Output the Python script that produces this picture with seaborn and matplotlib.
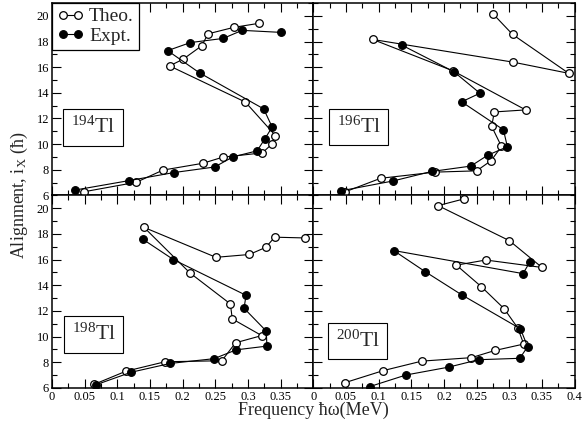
import numpy as np
import pandas as pd
import matplotlib
matplotlib.use("Agg")
import matplotlib.pyplot as plt
import seaborn as sns
from matplotlib.ticker import MultipleLocator, FuncFormatter
from matplotlib.lines import Line2D

# ---------------- data ----------------
nuclei = ["194", "196", "198", "200"]

theo_194_x = [0.049, 0.129, 0.170, 0.231, 0.261, 0.322, 0.336, 0.342, 0.296, 0.180, 0.201, 0.229, 0.239, 0.278, 0.317]
theo_194_y = [6.29, 7.03, 7.98, 8.51, 8.98, 9.32, 9.98, 10.67, 13.28, 16.10, 16.63, 17.66, 18.60, 19.10, 19.42]
expt_194_x = [0.035, 0.118, 0.187, 0.249, 0.277, 0.314, 0.326, 0.337, 0.324, 0.226, 0.177, 0.212, 0.262, 0.291, 0.351]
expt_194_y = [6.42, 7.16, 7.79, 8.22, 9.01, 9.48, 10.43, 11.33, 12.75, 15.55, 17.29, 17.92, 18.24, 18.87, 18.71]

theo_196_x = [0.049, 0.103, 0.186, 0.250, 0.272, 0.288, 0.273, 0.277, 0.325, 0.214, 0.091, 0.306, 0.391, 0.305, 0.275]
theo_196_y = [6.29, 7.34, 7.82, 7.92, 8.71, 9.82, 11.38, 12.51, 12.67, 15.71, 18.16, 16.39, 15.52, 18.55, 20.16]
expt_196_x = [0.043, 0.122, 0.181, 0.241, 0.267, 0.297, 0.291, 0.227, 0.255, 0.215, 0.135]
expt_196_y = [6.37, 7.13, 7.87, 8.29, 9.14, 9.80, 11.12, 13.30, 13.97, 15.65, 17.73]

theo_198_x = [0.065, 0.113, 0.173, 0.260, 0.281, 0.321, 0.276, 0.273, 0.211, 0.141, 0.251, 0.302, 0.327, 0.341, 0.387]
theo_198_y = [6.29, 7.30, 8.04, 8.12, 9.52, 10.08, 11.38, 12.55, 14.97, 18.51, 16.18, 16.40, 16.95, 17.75, 17.69]
expt_198_x = [0.067, 0.121, 0.181, 0.248, 0.282, 0.329, 0.328, 0.294, 0.297, 0.186, 0.139]
expt_198_y = [6.24, 7.22, 7.91, 8.28, 8.97, 9.26, 10.43, 12.21, 13.22, 16.00, 17.59]

theo_200_x = [0.049, 0.107, 0.166, 0.242, 0.278, 0.322, 0.313, 0.292, 0.257, 0.219, 0.264, 0.350, 0.300, 0.191, 0.231]
theo_200_y = [6.42, 7.35, 8.09, 8.36, 8.92, 9.42, 10.67, 12.18, 13.90, 15.57, 15.97, 15.39, 17.48, 20.21, 20.74]
expt_200_x = [0.086, 0.142, 0.207, 0.253, 0.316, 0.328, 0.317, 0.227, 0.171, 0.123, 0.321, 0.331]
expt_200_y = [6.10, 7.01, 7.62, 8.20, 8.31, 9.21, 10.61, 13.26, 15.07, 16.71, 14.91, 15.78]

theo = {"194": (theo_194_x, theo_194_y), "196": (theo_196_x, theo_196_y),
        "198": (theo_198_x, theo_198_y), "200": (theo_200_x, theo_200_y)}
expt = {"194": (expt_194_x, expt_194_y), "196": (expt_196_x, expt_196_y),
        "198": (expt_198_x, expt_198_y), "200": (expt_200_x, expt_200_y)}

x_ticks = [0, 0.05, 0.1, 0.15, 0.2, 0.25, 0.3, 0.35, 0.4]
y_ticks = [6, 8, 10, 12, 14, 16, 18, 20]

# ---------------- style ----------------
sns.set_style("ticks")
plt.rcParams["font.family"] = ["Liberation Serif", "DejaVu Serif"]
plt.rcParams["mathtext.fontset"] = "custom"
plt.rcParams["mathtext.rm"] = "Liberation Serif"
plt.rcParams["mathtext.it"] = "Liberation Serif:italic"
plt.rcParams["axes.linewidth"] = 1.1

MS = 5.5

fig, axes = plt.subplots(2, 2, figsize=(5.84, 4.32), dpi=100)
fig.subplots_adjust(left=0.089, right=0.984, bottom=0.102, top=0.993,
                    wspace=0, hspace=0)

label_pos = {"194": (0.157, 0.353), "196": (0.174, 0.355),
             "198": (0.160, 0.278), "200": (0.169, 0.245)}

for ax, nuc in zip(axes.flat, nuclei):
    tx, ty = theo[nuc]
    ex, ey = expt[nuc]
    dft = pd.DataFrame({"x": tx, "y": ty})
    dfe = pd.DataFrame({"x": ex, "y": ey})
    sns.lineplot(data=dft, x="x", y="y", sort=False, estimator=None, ax=ax,
                 color="black", lw=0.8, marker="o", markersize=MS,
                 markerfacecolor="white", markeredgecolor="black",
                 markeredgewidth=0.9, zorder=3)
    sns.lineplot(data=dfe, x="x", y="y", sort=False, estimator=None, ax=ax,
                 color="black", lw=0.8, marker="o", markersize=MS,
                 markerfacecolor="black", markeredgecolor="black",
                 markeredgewidth=0.9, zorder=3)
    ax.set_xlim(0, 0.4)
    ax.set_ylim(6, 21)
    ax.set_xticks(x_ticks)
    ax.set_yticks(y_ticks)
    ax.xaxis.set_minor_locator(MultipleLocator(0.025))
    ax.yaxis.set_minor_locator(MultipleLocator(1))
    ax.tick_params(which="both", direction="in", top=True, right=True,
                   width=0.8, labelsize=9, pad=2, colors="black")
    ax.tick_params(which="major", length=6.5)
    ax.tick_params(which="minor", length=3.5)
    ax.set_xlabel("")
    ax.set_ylabel("")
    for s in ax.spines.values():
        s.set_color("black")
    ax.text(label_pos[nuc][0], label_pos[nuc][1], r"$^{%s}$Tl" % nuc,
            transform=ax.transAxes, ha="center", va="center", fontsize=15.5,
            bbox=dict(boxstyle="square,pad=0.35", fc="white", ec="black", lw=0.8),
            zorder=5)

fmt_all = FuncFormatter(lambda v, p: f"{v:g}")
fmt_left = FuncFormatter(lambda v, p: "" if abs(v - 0.4) < 1e-9 else f"{v:g}")

axes[0, 0].tick_params(labelbottom=False)
axes[0, 1].tick_params(labelbottom=False, labelleft=False)
axes[1, 1].tick_params(labelleft=False)
axes[1, 0].xaxis.set_major_formatter(fmt_left)
axes[1, 1].xaxis.set_major_formatter(fmt_all)
axes[0, 0].yaxis.set_major_formatter(fmt_all)
axes[1, 0].yaxis.set_major_formatter(fmt_all)

handles = [Line2D([], [], color="black", lw=0.8, marker="o", markersize=MS,
                  markerfacecolor="white", markeredgecolor="black", markeredgewidth=0.9),
           Line2D([], [], color="black", lw=0.8, marker="o", markersize=MS,
                  markerfacecolor="black", markeredgecolor="black", markeredgewidth=0.9)]
leg = axes[0, 0].legend(handles, ["Theo.", "Expt."], loc="upper left",
                        borderaxespad=0, numpoints=2, handlelength=1.4,
                        handletextpad=0.25, fontsize=14, fancybox=False,
                        framealpha=1, edgecolor="black", labelspacing=0.1,
                        borderpad=0.25)
leg.get_frame().set_linewidth(0.9)

fig.text(0.034, 0.547, r"Alignment, i$_{\mathrm{X}}$ (ħ)", rotation=90,
         ha="center", va="center", fontsize=13)
fig.text(0.537, 0.051, "Frequency ħω(MeV)", ha="center", va="center", fontsize=13)

fig.savefig("out.png", dpi=100)
